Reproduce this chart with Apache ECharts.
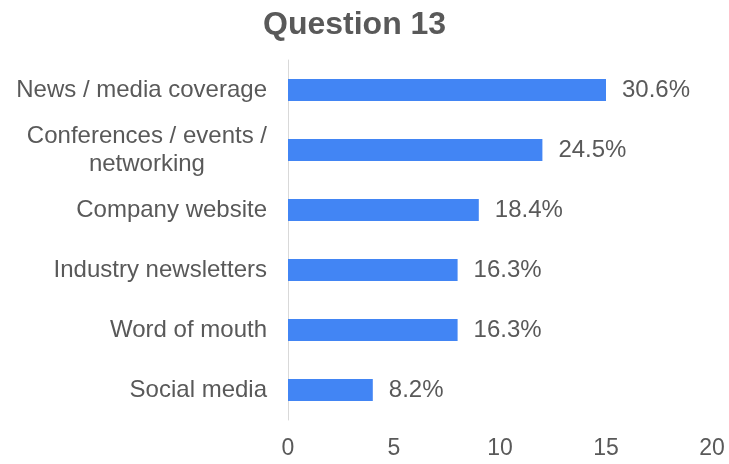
<!DOCTYPE html>
<html>
<head>
<meta charset="utf-8">
<script src="https://cdn.jsdelivr.net/npm/echarts@6/dist/echarts.min.js"></script>
<style>
  html, body { margin: 0; padding: 0; background: #fff; }
  #chart { width: 729px; height: 464px; }
</style>
</head>
<body>
<div id="chart"></div>
<script>
// Where respondents heard about it: answer counts out of all respondents
const categories = [
  'News / media coverage',
  'Conferences / events /\nnetworking',
  'Company website',
  'Industry newsletters',
  'Word of mouth',
  'Social media'
];
const counts = [15, 12, 9, 8, 8, 4];
const totalRespondents = 49;
const axisTicks = [0, 5, 10, 15, 20];

const textColor = '#595959';
const fontFamily = 'Liberation Sans, Arial, sans-serif';

const chart = echarts.init(document.getElementById('chart'), null, { renderer: 'canvas' });

chart.setOption({
  animation: false,
  backgroundColor: '#ffffff',
  title: {
    text: 'Question 13',
    left: 258,
    top: 4,
    textStyle: {
      fontFamily: fontFamily,
      fontSize: 32,
      fontWeight: 'bold',
      color: textColor
    }
  },
  grid: {
    left: 288,
    right: 17,
    top: 60,
    bottom: 44,
    containLabel: false
  },
  xAxis: {
    type: 'value',
    min: axisTicks[0],
    max: axisTicks[axisTicks.length - 1],
    interval: axisTicks[1] - axisTicks[0],
    axisLine: { show: false },
    axisTick: { show: false },
    splitLine: { show: false },
    axisLabel: {
      margin: 17,
      fontFamily: fontFamily,
      fontSize: 23,
      color: textColor
    }
  },
  yAxis: {
    type: 'category',
    data: categories,
    inverse: true,
    axisLine: { show: true, lineStyle: { color: '#d9d9d9', width: 1 } },
    axisTick: { show: false },
    splitLine: { show: false },
    axisLabel: {
      margin: 21,
      fontFamily: fontFamily,
      fontSize: 24,
      color: textColor,
      lineHeight: 28,
      formatter: function (value) {
        const lines = value.split('\n');
        if (lines.length === 1) return value;
        return lines.map(function (l) { return '{c|' + l + '}'; }).join('\n');
      },
      rich: {
        c: {
          fontFamily: fontFamily,
          fontSize: 24,
          color: textColor,
          lineHeight: 28,
          align: 'center'
        }
      }
    }
  },
  series: [{
    type: 'bar',
    data: counts,
    barWidth: 22,
    itemStyle: { color: '#4285f4' },
    label: {
      show: true,
      position: 'right',
      distance: 16,
      fontFamily: fontFamily,
      fontSize: 24,
      color: textColor,
      formatter: function (p) {
        return (p.value / totalRespondents * 100).toFixed(1) + '%';
      }
    }
  }]
});
</script>
</body>
</html>
